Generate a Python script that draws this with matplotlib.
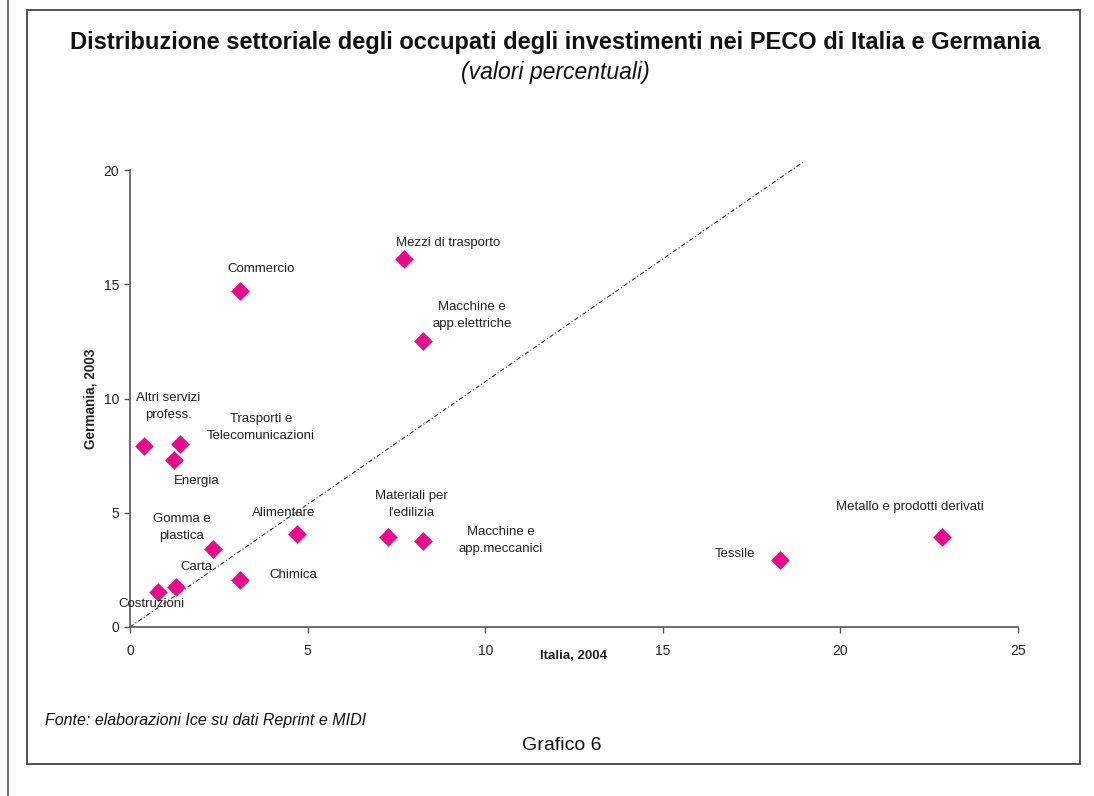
import matplotlib
matplotlib.use("Agg")
import matplotlib.pyplot as plt
from matplotlib.lines import Line2D
from matplotlib.patches import Rectangle

plt.rcParams['font.family'] = ['Liberation Sans', 'DejaVu Sans']

# ---- data ----
sectors = ["Altri servizi\nprofess.", "Trasporti e\nTelecomunicazioni", "Energia",
           "Commercio", "Mezzi di trasporto", "Macchine e\napp.elettriche",
           "Gomma e\nplastica", "Carta", "Costruzioni", "Chimica", "Alimentare",
           "Materiali per\nl'edilizia", "Macchine e\napp.meccanici", "Tessile",
           "Metallo e prodotti derivati"]
italia_2004 = [0.4, 1.4, 1.25, 3.1, 7.7, 8.25, 2.35, 1.3, 0.8, 3.1, 4.7, 7.25, 8.25, 18.3, 22.85]
germania_2003 = [7.9, 8.0, 7.3, 14.7, 16.1, 12.5, 3.4, 1.75, 1.55, 2.05, 4.05, 3.95, 3.75, 2.95, 3.95]
diag_x = [0, 19]
diag_y = [0, 20.4]
x_ticks = [0, 5, 10, 15, 20, 25]
y_ticks = [0, 5, 10, 15, 20]

# label offsets in pixels (dx right, dy up)
label_offsets = [(24, 40), (81, 17), (22, -21), (21, 22), (45, 16), (49, 26),
                 (-32, 22), (20, 20), (-7, -12), (53, 5), (-13, 21), (24, 32),
                 (78, 1), (-45, 6), (-32, 30)]

W, H = 1094, 796
fig = plt.figure(figsize=(W / 100, H / 100), dpi=100)
ax = fig.add_axes([130 / W, 1 - 627 / H, (1018 - 130) / W, (627 - 170) / H])

ax.plot(diag_x, diag_y, color='#333333', lw=0.8, linestyle=(0, (4, 2, 1, 2)),
        zorder=1, clip_on=False)
ax.scatter(italia_2004, germania_2003, marker='D', s=90, color='#EA088C',
           linewidths=0, zorder=3)

for name, x, y, (dx, dy) in zip(sectors, italia_2004, germania_2003, label_offsets):
    ax.annotate(name, (x, y), xytext=(dx, dy), textcoords='offset pixels',
                ha='center', va='center', fontsize=9.5, color='#222222',
                linespacing=1.55)

ax.set_xlim(0, 25)
ax.set_ylim(0, 20)
ax.set_xticks(x_ticks)
ax.set_yticks(y_ticks)
ax.tick_params(direction='out', length=4, width=1, color='#555555',
               labelsize=10, labelcolor='#222222')
ax.tick_params(axis='x', pad=8)
ax.tick_params(axis='y', pad=4)
for s in ['top', 'right']:
    ax.spines[s].set_visible(False)
for s in ['left', 'bottom']:
    ax.spines[s].set_color('#555555')
    ax.spines[s].set_linewidth(1.2)
ax.patch.set_alpha(0)

ax.set_xlabel("Italia, 2004", fontsize=9.5, fontweight='bold', color='#222222')
ax.xaxis.set_label_coords(0.5, -0.05)
ax.set_ylabel("Germania, 2003", fontsize=9.8, fontweight='bold', color='#222222')
ax.yaxis.set_label_coords(-0.037, 0.5)

# titles and notes
fig.text(555 / W, 1 - 43 / H, "Distribuzione settoriale degli occupati degli investimenti nei PECO di Italia e Germania",
         ha='center', va='center', fontsize=17, fontweight='bold', color='#111111')
fig.text(555 / W, 1 - 72 / H, "(valori percentuali)", ha='center', va='center',
         fontsize=16.5, style='italic', color='#111111')
fig.text(45 / W, 1 - 721 / H, "Fonte: elaborazioni Ice su dati Reprint e MIDI",
         ha='left', va='center', fontsize=11.5, style='italic', color='#111111')
fig.text(562 / W, 1 - 745 / H, "Grafico 6", ha='center', va='center',
         fontsize=14, color='#111111')

# frame lines
fig.add_artist(Line2D([8 / W, 8 / W], [0, 1], transform=fig.transFigure,
                      color='#555555', lw=1.2))
fig.add_artist(Rectangle((27 / W, 1 - 764 / H), (1080 - 27) / W, (764 - 10) / H,
                         transform=fig.transFigure, fill=False,
                         edgecolor='#444444', lw=1.3))

fig.savefig("out.png", dpi=100)
